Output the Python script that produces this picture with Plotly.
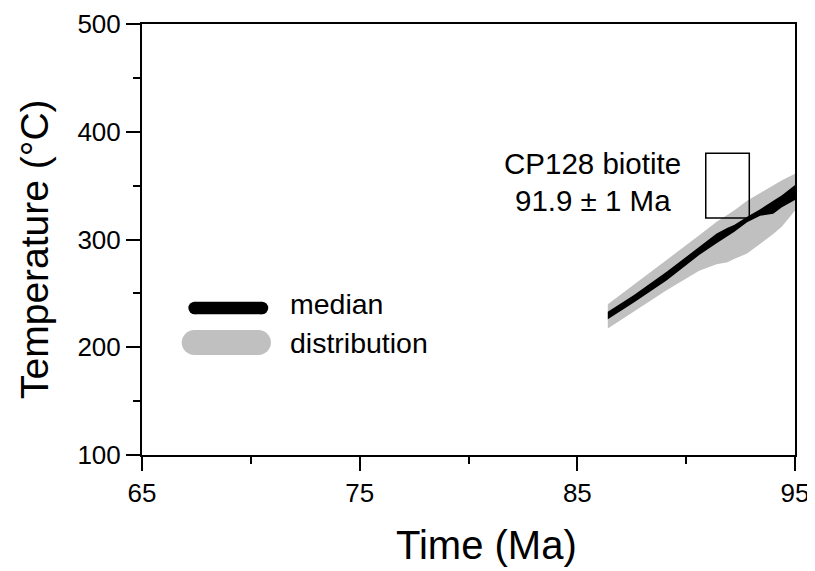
import plotly.graph_objects as go

# Time (Ma) sample points along the cooling path
time_ma = [86.4, 87.6, 89.1, 90.6, 91.4, 91.9, 92.2, 92.8, 93.4, 94.0, 94.4, 95.0]
# Distribution envelope (gray)
dist_upper = [240, 258, 281, 304, 316.5, 323, 327, 336, 343, 350, 355, 361]
dist_lower = [217.5, 233, 253, 271, 277, 279, 282, 287, 296, 305, 312, 327]
# Median envelope (black)
med_upper = [233, 248.5, 270, 293, 305.5, 311, 313.5, 321, 328, 336, 341, 350.5]
med_lower = [226, 241.5, 262, 285.5, 296.5, 303, 307, 316, 322, 324, 330, 336.7]

# Constraint box: CP128 biotite 91.9 ± 1 Ma
box_time = [90.9, 92.9]
box_temp = [320, 380]
box_label = ["CP128 biotite", "91.9 ± 1 Ma"]

# Axis ticks
x_ticks = [65, 75, 85, 95]
y_ticks = [100, 200, 300, 400, 500]

# Legend sample positions (data units)
leg_med_x = [67.42, 70.51]
leg_med_y = [236.4, 236.4]
leg_dist_x = [67.40, 70.35]
leg_dist_y = [204.4, 204.4]

GRAY = "#c0c0c0"
FONT = "Liberation Sans, Arial, sans-serif"

fig = go.Figure()

# gray distribution band
fig.add_trace(go.Scatter(x=time_ma, y=dist_lower, mode="lines", line=dict(width=0, color=GRAY),
                         showlegend=False, hoverinfo="skip"))
fig.add_trace(go.Scatter(x=time_ma, y=dist_upper, mode="lines", line=dict(width=0, color=GRAY),
                         fill="tonexty", fillcolor=GRAY, showlegend=False, hoverinfo="skip"))
# black median band
fig.add_trace(go.Scatter(x=time_ma, y=med_lower, mode="lines", line=dict(width=0, color="black"),
                         showlegend=False, hoverinfo="skip"))
fig.add_trace(go.Scatter(x=time_ma, y=med_upper, mode="lines", line=dict(width=0, color="black"),
                         fill="tonexty", fillcolor="black", showlegend=False, hoverinfo="skip"))

# legend samples (rounded ends via markers)
fig.add_trace(go.Scatter(x=leg_med_x, y=leg_med_y, mode="lines+markers",
                         line=dict(width=12.6, color="black"),
                         marker=dict(size=12.6, color="black", line=dict(width=0)),
                         showlegend=False, hoverinfo="skip"))
fig.add_trace(go.Scatter(x=leg_dist_x, y=leg_dist_y, mode="lines+markers",
                         line=dict(width=25, color=GRAY),
                         marker=dict(size=25, color=GRAY, line=dict(width=0)),
                         showlegend=False, hoverinfo="skip"))

fig.add_annotation(x=71.7, y=240, text="median", showarrow=False, xanchor="left", yanchor="middle",
                   font=dict(size=28.5, color="black", family=FONT))
fig.add_annotation(x=71.7, y=204, text="distribution", showarrow=False, xanchor="left", yanchor="middle",
                   font=dict(size=28.5, color="black", family=FONT))

# constraint box
fig.add_shape(type="rect", x0=box_time[0], x1=box_time[1], y0=box_temp[0], y1=box_temp[1],
              line=dict(color="black", width=1.5), fillcolor="rgba(0,0,0,0)")
fig.add_annotation(x=85.7, y=371, text=box_label[0], showarrow=False, xanchor="center", yanchor="middle",
                   font=dict(size=29.5, color="black", family=FONT))
fig.add_annotation(x=85.7, y=336, text=box_label[1], showarrow=False, xanchor="center", yanchor="middle",
                   font=dict(size=29.5, color="black", family=FONT))

# axis titles
fig.add_annotation(xref="paper", yref="paper", x=0.528, y=-0.2088, text="Time (Ma)", showarrow=False,
                   xanchor="center", yanchor="middle", font=dict(size=40, color="black", family=FONT))
fig.add_annotation(xref="paper", yref="paper", x=-0.1639, y=0.478, text="Temperature (°C)", showarrow=False,
                   textangle=-90, xanchor="center", yanchor="middle",
                   font=dict(size=39, color="black", family=FONT))

axis_common = dict(
    showgrid=False, zeroline=False, showline=True, linecolor="black", linewidth=2,
    mirror=True, ticks="outside", tickcolor="black", tickwidth=2, ticklen=14,
    tickfont=dict(size=26, color="black", family=FONT), automargin=False,
)

fig.update_xaxes(range=[65, 95], tickvals=x_ticks, ticktext=[str(v) for v in x_ticks],
                 minor=dict(tickvals=[70, 80, 90], ticklen=7, tickwidth=2, tickcolor="black", ticks="outside"),
                 **axis_common)
fig.update_yaxes(range=[100, 500], tickvals=y_ticks, ticktext=[str(v) for v in y_ticks],
                 minor=dict(tickvals=[150, 250, 350, 450], ticklen=7, tickwidth=2, tickcolor="black", ticks="outside"),
                 **axis_common)

fig.update_layout(
    width=815, height=571,
    margin=dict(l=134, r=28, t=16, b=124),
    paper_bgcolor="white", plot_bgcolor="white",
    showlegend=False,
    font=dict(family=FONT, color="black"),
)

fig.write_html("out.html")
